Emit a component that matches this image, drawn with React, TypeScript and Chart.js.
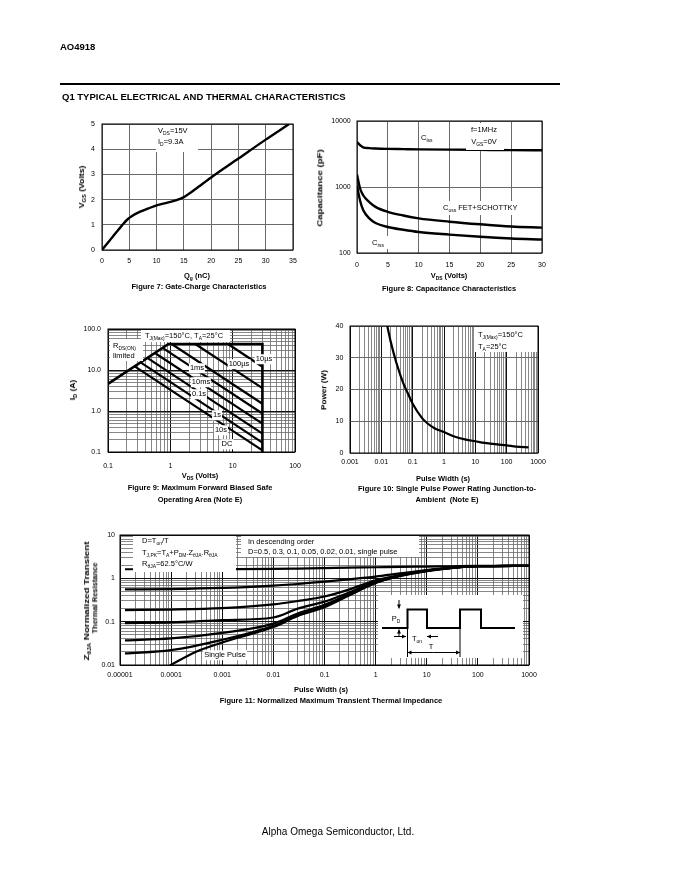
import React, { useEffect, useRef } from "react";
import { Chart, registerables } from "chart.js";
Chart.register(...registerables);

const FONT = '"Liberation Sans", Arial, Helvetica, sans-serif';

// ---------------- Figure 7: Gate charge ----------------
const fig7Qg = [0, 1, 2, 3, 4, 4.7, 5.5, 7, 8.5, 10, 12, 13.5, 15, 17, 20, 25, 30, 34.3];
const fig7Vgs = [0, 0.27, 0.54, 0.8, 1.06, 1.22, 1.35, 1.52, 1.65, 1.77, 1.88, 1.97, 2.1, 2.4, 2.88, 3.63, 4.38, 5.0];
const fig7XTicks = [0, 5, 10, 15, 20, 25, 30, 35];
const fig7YTicks = [0, 1, 2, 3, 4, 5];

// ---------------- Figure 8: Capacitance ----------------
const fig8Vds = [0, 0.5, 1, 2, 3, 5, 7.5, 10, 15, 20, 25, 30];
const fig8Ciss = [4800, 4300, 4000, 3880, 3830, 3780, 3750, 3720, 3680, 3650, 3620, 3600];
const fig8Coss = [1540, 950, 750, 590, 500, 420, 370, 335, 298, 272, 252, 242];
const fig8Crss = [1050, 620, 450, 335, 285, 248, 225, 208, 190, 176, 166, 160];
const fig8XTicks = [0, 5, 10, 15, 20, 25, 30];
const fig8YTicks = [100, 1000, 10000];
const fig8YLabels = ["100", "1000", "10000"];

// ---------------- Figure 9: SOA ----------------
const fig9BoundV = [0.1, 0.935, 30, 30];
const fig9BoundI = [4.6, 43, 43, 0.1];
const fig9LineNames = ["10µs", "100µs", "1ms", "10ms", "0.1s", "1s", "10s", "DC"];
const fig9StartV = [8.4, 2.51, 1.05, 0.75, 0.565, 0.427, 0.333, 0.268];
const fig9StartI = [43, 43, 43, 34.6, 26, 19.7, 15.3, 12.3];
const fig9EndV = [30, 30, 30, 30, 30, 30, 30, 30];
const fig9EndI = [12, 3.6, 1.5, 0.87, 0.49, 0.28, 0.17, 0.11];
const fig9XLabels = ["0.1", "1", "10", "100"];
const fig9YLabels = ["0.1", "1.0", "10.0", "100.0"];

// ---------------- Figure 10: Single pulse power ----------------
const fig10Time = [0.0155, 0.02, 0.03, 0.05, 0.07, 0.1, 0.2, 0.3, 0.5, 1, 2, 5, 10, 20, 50, 100, 200, 500];
const fig10Power = [40, 35, 28.5, 22, 18.8, 15.5, 11, 9.3, 7.8, 6.6, 5.3, 4.2, 3.7, 3.2, 2.7, 2.4, 2.0, 1.8];
const fig10XLabels = ["0.001", "0.01", "0.1", "1", "10", "100", "1000"];
const fig10YTicks = [0, 10, 20, 30, 40];

// ---------------- Figure 11: Transient thermal impedance ----------------
const fig11Time = [1.25e-5, 1e-4, 1e-3, 1e-2, 0.03, 0.1, 0.3, 1, 3, 10, 30, 100, 1000];
const fig11CurveT = [1.62, 1.62, 1.63, 1.65, 1.68, 1.72, 1.76, 1.8, 1.84, 1.87, 1.9, 1.93, 1.95];
const fig11CurveA = [0.555, 0.565, 0.6, 0.68, 0.74, 0.84, 0.95, 1.1, 1.3, 1.55, 1.76, 1.9, 1.95];
const fig11CurveB = [0.185, 0.19, 0.205, 0.25, 0.3, 0.38, 0.55, 0.9, 1.2, 1.52, 1.75, 1.9, 1.95];
const fig11CurveC = [0.093, 0.096, 0.108, 0.125, 0.2, 0.29, 0.47, 0.84, 1.17, 1.5, 1.74, 1.9, 1.95];
const fig11CurveD = [0.037, 0.041, 0.055, 0.09, 0.155, 0.245, 0.43, 0.81, 1.15, 1.49, 1.73, 1.9, 1.95];
const fig11CurveE = [0.0185, 0.022, 0.038, 0.08, 0.14, 0.225, 0.41, 0.79, 1.14, 1.48, 1.73, 1.9, 1.95];
const fig11SingleTime = [9.5e-5, 3e-4, 1e-3, 1e-2, 0.03, 0.1, 0.3, 1, 3, 10, 30, 100, 1000];
const fig11Single = [0.0098, 0.02, 0.033, 0.075, 0.135, 0.215, 0.4, 0.78, 1.13, 1.47, 1.72, 1.9, 1.95];
const fig11XLabels = ["0.00001", "0.0001", "0.001", "0.01", "0.1", "1", "10", "100", "1000"];
const fig11YLabels = ["0.01", "0.1", "1", "10"];

// inset (pulse train) geometry in page pixels
const INSET = {
  box: [378, 595, 145, 63],
  low: 628, high: 609.5,
  start: 382, rise1: 407.5, fall1: 427, rise2: 460, fall2: 481, end: 515,
  extBottom: 657, tArrowY: 652.5, tonArrowY: 636.5, tonL: [394, 406], tonR: [438, 427],
  pdX: 399, pdDown: [600, 608.5], pdUp: [637, 629.5],
};

// ---------------- helpers ----------------
function logGrid(minExp: number, maxExp: number): number[] {
  const out: number[] = [];
  for (let e = minExp; e < maxExp; e++) {
    for (let m = 1; m < 10; m++) out.push(Number((m * Math.pow(10, e)).toPrecision(6)));
  }
  out.push(Math.pow(10, maxExp));
  return out;
}
const isDecade = (v: number) => {
  if (!(v > 0)) return false;
  const e = Math.log10(v);
  return Math.abs(e - Math.round(e)) < 1e-6;
};
const decadeLabel = (labels: string[], minExp: number) => (v: number) => {
  if (!isDecade(v)) return "";
  const idx = Math.round(Math.log10(v)) - minExp;
  return labels[idx] ?? "";
};
const logGridColor = (v: number) => (isDecade(v) ? "#111" : "#6a6a6a");
const logGridWidth = (v: number) => (isDecade(v) ? 1 : 0.8);
const plainColor = () => "#6a6a6a";
const plainWidth = () => 1;

function axis(
  pos: "x" | "y",
  type: "linear" | "logarithmic",
  min: number,
  max: number,
  ticks: number[],
  label: (v: number) => string,
  fit: number,
  pad: number,
  gridColor: (v: number) => string,
  gridWidth: (v: number) => number
) {
  return {
    type,
    min,
    max,
    position: pos === "x" ? "bottom" : "left",
    afterBuildTicks: (s: any) => {
      s.ticks = ticks.map((value) => ({ value }));
    },
    afterFit: (s: any) => {
      if (pos === "x") s.height = fit;
      else s.width = fit;
      s.paddingLeft = 0;
      s.paddingRight = 0;
      s.paddingTop = 0;
      s.paddingBottom = 0;
    },
    ticks: {
      autoSkip: false,
      maxRotation: 0,
      minRotation: 0,
      padding: pad,
      color: "#000",
      font: { family: FONT, size: 7 },
      callback: (v: any) => label(Number(v)),
    },
    grid: {
      drawTicks: false,
      color: (c: any) => gridColor(c.tick ? c.tick.value : 0),
      lineWidth: (c: any) => gridWidth(c.tick ? c.tick.value : 0),
    },
    border: { display: false },
  };
}

function lineDs(xs: number[], ys: number[], width = 2, smooth = true) {
  return {
    data: xs.map((x, i) => ({ x, y: ys[i] })),
    borderColor: "#000",
    backgroundColor: "#000",
    borderWidth: width,
    pointRadius: 0,
    fill: false,
    tension: 0,
    cubicInterpolationMode: smooth ? "monotone" : "default",
    borderJoinStyle: "miter",
  };
}

const framePlugin = {
  id: "frame",
  beforeDatasetsDraw(chart: any) {
    const { left, top, right, bottom } = chart.chartArea;
    const c = chart.ctx;
    c.save();
    c.strokeStyle = "#000";
    c.lineWidth = 1;
    c.strokeRect(left, top, right - left, bottom - top);
    c.restore();
  },
};

function arrow(c: CanvasRenderingContext2D, x1: number, y1: number, x2: number, y2: number) {
  c.beginPath();
  c.moveTo(x1, y1);
  c.lineTo(x2, y2);
  c.stroke();
  const a = Math.atan2(y2 - y1, x2 - x1);
  const L = 4, W = 2;
  c.beginPath();
  c.moveTo(x2, y2);
  c.lineTo(x2 - L * Math.cos(a) + W * Math.sin(a), y2 - L * Math.sin(a) - W * Math.cos(a));
  c.lineTo(x2 - L * Math.cos(a) - W * Math.sin(a), y2 - L * Math.sin(a) + W * Math.cos(a));
  c.closePath();
  c.fill();
}

function makeInsetPlugin(ox: number, oy: number) {
  return {
    id: "inset",
    afterDatasetsDraw(chart: any) {
      const c: CanvasRenderingContext2D = chart.ctx;
      const o = INSET;
      const X = (x: number) => x - ox;
      const Y = (y: number) => y - oy;
      c.save();
      c.fillStyle = "#fff";
      c.fillRect(X(o.box[0]), Y(o.box[1]), o.box[2], o.box[3]);
      c.strokeStyle = "#000";
      c.fillStyle = "#000";
      c.lineWidth = 2;
      c.beginPath();
      c.moveTo(X(o.start), Y(o.low));
      c.lineTo(X(o.rise1), Y(o.low));
      c.lineTo(X(o.rise1), Y(o.high));
      c.lineTo(X(o.fall1), Y(o.high));
      c.lineTo(X(o.fall1), Y(o.low));
      c.lineTo(X(o.rise2), Y(o.low));
      c.lineTo(X(o.rise2), Y(o.high));
      c.lineTo(X(o.fall2), Y(o.high));
      c.lineTo(X(o.fall2), Y(o.low));
      c.lineTo(X(o.end), Y(o.low));
      c.stroke();
      c.lineWidth = 1;
      c.beginPath();
      c.moveTo(X(o.rise1), Y(o.low));
      c.lineTo(X(o.rise1), Y(o.extBottom));
      c.moveTo(X(o.rise2), Y(o.low));
      c.lineTo(X(o.rise2), Y(o.extBottom));
      c.stroke();
      const mid = (o.rise1 + o.rise2) / 2;
      arrow(c, X(mid), Y(o.tArrowY), X(o.rise1), Y(o.tArrowY));
      arrow(c, X(mid), Y(o.tArrowY), X(o.rise2), Y(o.tArrowY));
      arrow(c, X(o.tonL[0]), Y(o.tonArrowY), X(o.tonL[1]), Y(o.tonArrowY));
      arrow(c, X(o.tonR[0]), Y(o.tonArrowY), X(o.tonR[1]), Y(o.tonArrowY));
      arrow(c, X(o.pdX), Y(o.pdDown[0]), X(o.pdX), Y(o.pdDown[1]));
      arrow(c, X(o.pdX), Y(o.pdUp[0]), X(o.pdX), Y(o.pdUp[1]));
      c.restore();
    },
  };
}

function baseOptions(padTop: number, padRight: number, x: any, y: any) {
  return {
    responsive: false,
    maintainAspectRatio: false,
    animation: false,
    events: [],
    layout: { padding: { top: padTop, right: padRight, left: 0, bottom: 0 } },
    plugins: { legend: { display: false }, tooltip: { enabled: false }, title: { display: false } },
    scales: { x, y },
  };
}

// ---------------- chart configs ----------------
function fig7Config() {
  return {
    type: "line",
    data: { datasets: [lineDs(fig7Qg, fig7Vgs, 2.4)] },
    options: baseOptions(
      14,
      17,
      axis("x", "linear", 0, 35, fig7XTicks, (v) => String(v), 20, 6.5, plainColor, plainWidth),
      axis("y", "linear", 0, 5, fig7YTicks, (v) => String(v), 32, 7, plainColor, plainWidth)
    ),
    plugins: [framePlugin],
  };
}

function fig8Config() {
  return {
    type: "line",
    data: {
      datasets: [
        lineDs(fig8Vds, fig8Ciss, 2.4),
        lineDs(fig8Vds, fig8Coss, 2.4),
        lineDs(fig8Vds, fig8Crss, 2.4),
      ],
    },
    options: baseOptions(
      11,
      18,
      axis("x", "linear", 0, 30, fig8XTicks, (v) => String(v), 22, 7.8, plainColor, plainWidth),
      axis("y", "logarithmic", 100, 10000, fig8YTicks, decadeLabel(fig8YLabels, 2), 42, 6.3, plainColor, plainWidth)
    ),
    plugins: [framePlugin],
  };
}

function fig9Config() {
  const ds: any[] = [lineDs(fig9BoundV, fig9BoundI, 2.6, false)];
  fig9LineNames.forEach((_, i) => {
    ds.push(lineDs([fig9StartV[i], fig9EndV[i]], [fig9StartI[i], fig9EndI[i]], 2.2, false));
  });
  return {
    type: "line",
    data: { datasets: ds },
    options: baseOptions(
      11,
      15,
      axis("x", "logarithmic", 0.1, 100, logGrid(-1, 2), decadeLabel(fig9XLabels, -1), 26, 10, logGridColor, logGridWidth),
      axis("y", "logarithmic", 0.1, 100, logGrid(-1, 2), decadeLabel(fig9YLabels, -1), 38, 7, logGridColor, logGridWidth)
    ),
    plugins: [framePlugin],
  };
}

function fig10Config() {
  return {
    type: "line",
    data: { datasets: [lineDs(fig10Time, fig10Power, 2.2)] },
    options: baseOptions(
      8,
      17,
      axis("x", "logarithmic", 0.001, 1000, logGrid(-3, 3), decadeLabel(fig10XLabels, -3), 20, 4.8, logGridColor, logGridWidth),
      axis("y", "linear", 0, 40, fig10YTicks, (v) => String(v), 35, 6.7, plainColor, plainWidth)
    ),
    plugins: [framePlugin],
  };
}

function fig11Config() {
  return {
    type: "line",
    data: {
      datasets: [
        lineDs(fig11Time, fig11CurveT, 2.2),
        lineDs(fig11Time, fig11CurveA, 2.2),
        lineDs(fig11Time, fig11CurveB, 2.2),
        lineDs(fig11Time, fig11CurveC, 2.2),
        lineDs(fig11Time, fig11CurveD, 2.2),
        lineDs(fig11Time, fig11CurveE, 2.2),
        lineDs(fig11SingleTime, fig11Single, 2.2),
      ],
    },
    options: baseOptions(
      10,
      21,
      axis("x", "logarithmic", 0.00001, 1000, logGrid(-5, 3), decadeLabel(fig11XLabels, -5), 20, 5.8, logGridColor, logGridWidth),
      axis("y", "logarithmic", 0.01, 10, logGrid(-2, 1), decadeLabel(fig11YLabels, -2), 55, 5, logGridColor, logGridWidth)
    ),
    plugins: [framePlugin, makeInsetPlugin(65, 525)],
  };
}

// ---------------- components ----------------
function ChartBox({ left, top, width, height, build }: { left: number; top: number; width: number; height: number; build: () => any }) {
  const ref = useRef<HTMLCanvasElement | null>(null);
  useEffect(() => {
    if (!ref.current) return;
    const chart = new Chart(ref.current, build());
    return () => chart.destroy();
  }, []);
  return (
    <canvas
      ref={ref}
      width={width}
      height={height}
      style={{ position: "absolute", left, top, width, height, display: "block" }}
    />
  );
}

const Sb = ({ children }: any) => (
  <span style={{ fontSize: "0.66em", position: "relative", top: "0.32em" }}>{children}</span>
);

function Txt({ x, y, size = 7.5, bold = false, anchor = "c", rot = false, sx = 1, bg = false, children }: any) {
  const tr =
    (anchor === "c" ? "translate(-50%,-50%)" : "translate(0,-50%)") +
    (rot ? " rotate(-90deg)" : "") +
    (sx !== 1 ? ` scaleX(${sx})` : "");
  return (
    <div
      style={{
        position: "absolute",
        left: x,
        top: y,
        transform: tr,
        willChange: "transform",
        fontFamily: FONT,
        fontSize: size,
        fontWeight: bold ? 700 : 400,
        lineHeight: 1,
        whiteSpace: "pre",
        color: "#000",
        background: bg ? "#fff" : "transparent",
        padding: bg ? "1px 1px" : 0,
      }}
    >
      {children}
    </div>
  );
}

const Box = ({ x, y, w, h }: any) => (
  <div style={{ position: "absolute", left: x, top: y, width: w, height: h, background: "#fff" }} />
);

const fig9LabelPos: [number, number][] = [
  [264, 359], [238.5, 363.5], [197, 368], [200.5, 382], [198.5, 394], [216.5, 415], [220.5, 430], [227, 443.5],
];

export default function App() {
  return (
    <div style={{ position: "absolute", left: 0, top: 0, width: 680, height: 880, background: "#fff", overflow: "hidden" }}>
      {/* header */}
      <Txt x={60} y={47} size={9.5} bold anchor="l">AO4918</Txt>
      <div style={{ position: "absolute", left: 60, top: 83, width: 500, height: 2, background: "#000" }} />
      <Txt x={62} y={97} size={9.5} bold anchor="l">Q1 TYPICAL ELECTRICAL AND THERMAL CHARACTERISTICS</Txt>

      {/* Figure 7 */}
      <ChartBox left={70} top={110} width={240} height={160} build={fig7Config} />
      <Txt x={82} y={187} bold rot sx={1.15}>V<Sb>GS</Sb> (Volts)</Txt>
      <Txt x={197} y={275.5} bold>Q<Sb>g</Sb> (nC)</Txt>
      <Txt x={199} y={287} bold>Figure 7: Gate-Charge Characteristics</Txt>
      <Box x={156} y={125} w={42} h={27} />
      <Txt x={158} y={130.5} anchor="l">V<Sb>DS</Sb>=15V</Txt>
      <Txt x={158} y={142} anchor="l">I<Sb>D</Sb>=9.3A</Txt>

      {/* Figure 8 */}
      <ChartBox left={315} top={110} width={245} height={165} build={fig8Config} />
      <Txt x={320} y={188} bold rot sx={1.28}>Capacitance (pF)</Txt>
      <Txt x={449} y={276} bold>V<Sb>DS</Sb> (Volts)</Txt>
      <Txt x={449} y={288.5} bold>Figure 8: Capacitance Characteristics</Txt>
      <Box x={419} y={131} w={23} h={14} />
      <Txt x={421} y={138} anchor="l">C<Sb>iss</Sb></Txt>
      <Box x={466} y={123} w={38} h={27} />
      <Txt x={484} y={130}>f=1MHz</Txt>
      <Txt x={484} y={142}>V<Sb>GS</Sb>=0V</Txt>
      <Box x={441} y={201} w={83} h={14} />
      <Txt x={443} y={208} anchor="l">C<Sb>oss</Sb> FET+SCHOTTKY</Txt>
      <Box x={370} y={236} w={18} h={13} />
      <Txt x={372} y={242.5} anchor="l">C<Sb>rss</Sb></Txt>

      {/* Figure 9 */}
      <ChartBox left={70} top={318} width={240} height={160} build={fig9Config} />
      <Txt x={73} y={390} bold rot sx={1.12}>I<Sb>D</Sb> (A)</Txt>
      <Txt x={200} y={476} bold>V<Sb>DS</Sb> (Volts)</Txt>
      <Txt x={200} y={488} bold>Figure 9: Maximum Forward Biased Safe</Txt>
      <Txt x={200} y={499.5} bold>Operating Area (Note E)</Txt>
      <Box x={141} y={330} w={89} h={11.5} />
      <Txt x={145} y={335.5} anchor="l">T<Sb>J(Max)</Sb>=150°C, T<Sb>A</Sb>=25°C</Txt>
      <Box x={110} y={339} w={33} h={22} />
      <Txt x={113} y={345.5} anchor="l">R<Sb>DS(ON)</Sb></Txt>
      <Txt x={113} y={355.5} anchor="l">limited</Txt>
      {fig9LineNames.map((n, i) => (
        <Txt key={n} x={fig9LabelPos[i][0]} y={fig9LabelPos[i][1]} bg>{n}</Txt>
      ))}

      {/* Figure 10 */}
      <ChartBox left={315} top={318} width={240} height={155} build={fig10Config} />
      <Txt x={324} y={390} bold rot sx={1.09}>Power (W)</Txt>
      <Txt x={443} y={478.5} bold>Pulse Width (s)</Txt>
      <Txt x={447} y={488.5} bold>Figure 10: Single Pulse Power Rating Junction-to-</Txt>
      <Txt x={447} y={500} bold>Ambient  (Note E)</Txt>
      <Box x={475} y={327} w={62} h={25} />
      <Txt x={478} y={335} anchor="l">T<Sb>J(Max)</Sb>=150°C</Txt>
      <Txt x={478} y={347} anchor="l">T<Sb>A</Sb>=25°C</Txt>

      {/* Figure 11 */}
      <ChartBox left={65} top={525} width={485} height={160} build={fig11Config} />
      <Txt x={87} y={601} bold rot sx={1.3}>Z<Sb>θJA</Sb> Normalized Transient</Txt>
      <Txt x={94.5} y={598} bold rot>Thermal Resistance</Txt>
      <Txt x={321} y={690} bold>Pulse Width (s)</Txt>
      <Txt x={331} y={701} bold>Figure 11: Normalized Maximum Transient Thermal Impedance</Txt>
      <Box x={133} y={536} w={103} h={36} />
      <Txt x={141.5} y={540.5} anchor="l">D=T<Sb>on</Sb>/T</Txt>
      <Txt x={141.5} y={552.5} anchor="l">T<Sb>J,PK</Sb>=T<Sb>A</Sb>+P<Sb>DM</Sb>.Z<Sb>θJA</Sb>.R<Sb>θJA</Sb></Txt>
      <Txt x={141.5} y={563.5} anchor="l">R<Sb>θJA</Sb>=62.5°C/W</Txt>
      <Box x={241} y={536} w={178} h={21} />
      <Txt x={247.5} y={541.5} anchor="l">In descending order</Txt>
      <Txt x={247.5} y={551.5} anchor="l">D=0.5, 0.3, 0.1, 0.05, 0.02, 0.01, single pulse</Txt>
      <Txt x={225} y={655} bg>Single Pulse</Txt>
      <Txt x={396} y={618.5}>P<Sb>D</Sb></Txt>
      <Txt x={416.5} y={638.5}>T<Sb>on</Sb></Txt>
      <Txt x={431} y={647}>T</Txt>

      {/* footer */}
      <Txt x={338} y={832} size={10}>Alpha Omega Semiconductor, Ltd.</Txt>
    </div>
  );
}
